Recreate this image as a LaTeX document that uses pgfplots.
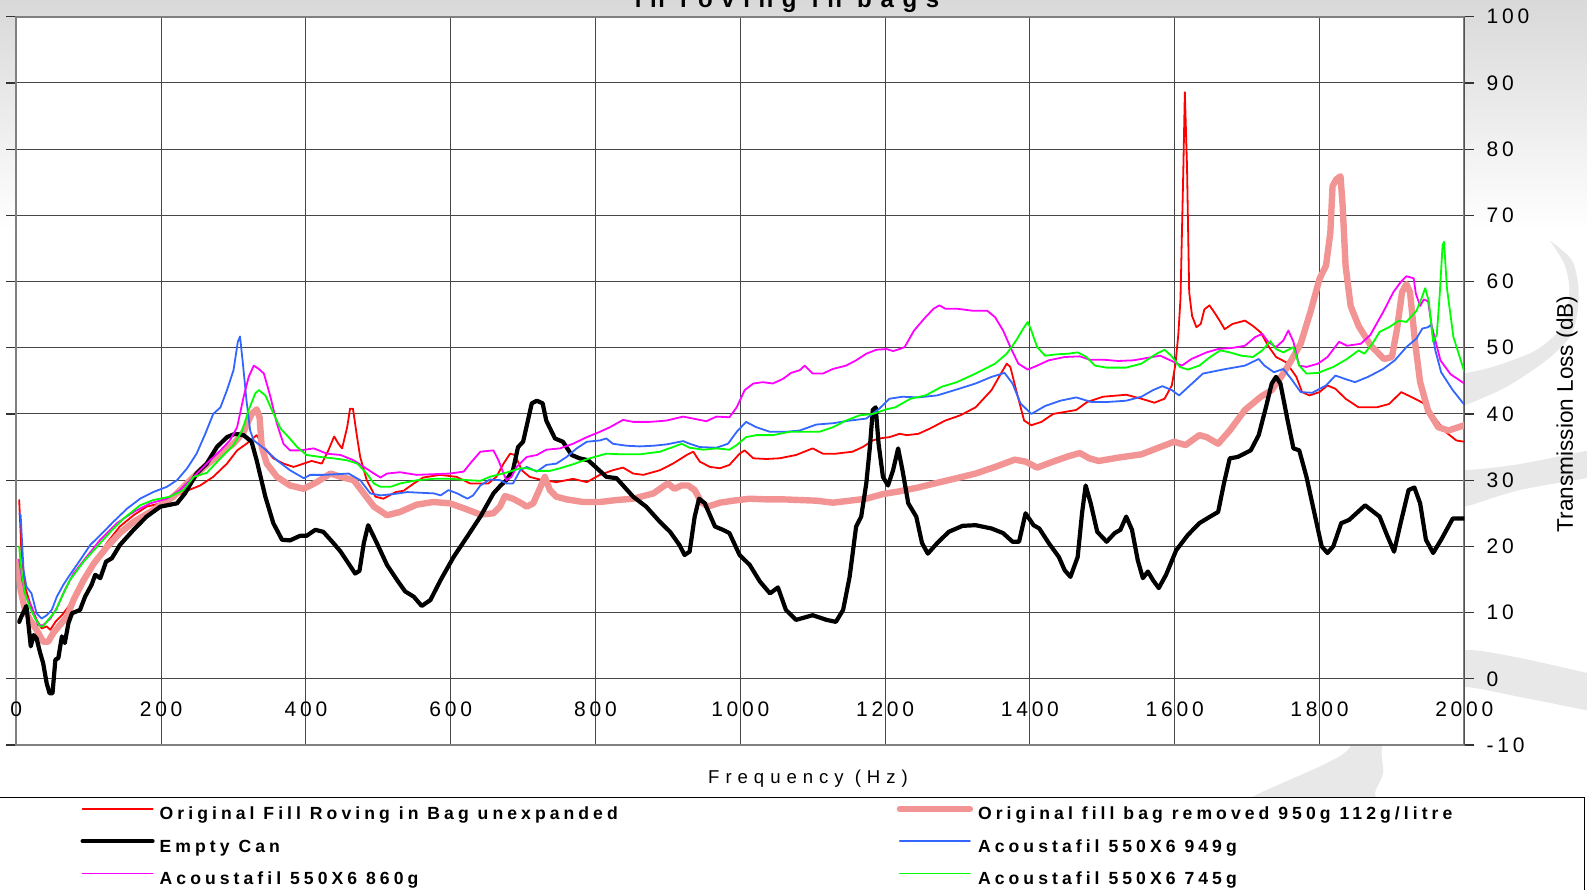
\documentclass[border=0pt]{standalone}
\usepackage{pgfplots}
\pgfplotsset{compat=1.18}
\usepackage{fontspec}
\setmainfont{Liberation Sans}
\newfontfamily\tickfont{Liberation Sans}[LetterSpace=18]
\newfontfamily\freqfont{Liberation Sans}[LetterSpace=32]
\newfontfamily\legfont{Liberation Sans}[LetterSpace=23]
\newfontfamily\titlefont{Liberation Sans}[LetterSpace=36]
\definecolor{cRed}{RGB}{255,0,0}
\definecolor{cSalmon}{RGB}{243,148,148}
\definecolor{cBlue}{RGB}{51,102,255}
\definecolor{cMag}{RGB}{255,0,255}
\definecolor{cGreen}{RGB}{0,255,0}
\definecolor{swoosh}{RGB}{232,232,232}
\begin{document}
\begin{tikzpicture}[x=1pt,y=1pt]
\path[use as bounding box] (0,0) rectangle (793.5,445);
\fill[white] (0,0) rectangle (793.5,445);
\shade[top color=black!15, bottom color=white] (0,330) rectangle (793.5,445);
% decorative swooshes
\fill[swoosh] plot[smooth] coordinates {(775,324.65) (782,313.35) (784.65,301.65) (783.35,288.35) (778.35,278.35) (766.65,269.15) (746.65,261.65) (732.5,258.35) (720,256)}
  -- plot[smooth] coordinates {(720,240) (732.5,242.5) (753.35,251.65) (773.35,265) (785,276.65) (788.65,288.35) (789.15,301.65) (785.85,315) (775,324.65)} -- cycle;
\fill[swoosh] plot[smooth] coordinates {(720,212) (732.5,210) (760,213) (800,221)}
  -- plot[smooth] coordinates {(800,207) (760,200) (732.5,191.65) (720,190)} -- cycle;
\fill[swoosh] plot[smooth] coordinates {(800,107) (760,116) (733,120) (710,115) (692.5,100) (676,72.5) (663.5,63.5) (630,48.5) (620,42.5)}
  -- plot[smooth] coordinates {(690,42.5) (687.5,48.5) (691.5,58.5) (691,71.5) (697.5,87.5) (715,99) (733,101.5) (760,96.5) (800,88.5)} -- cycle;
\begin{axis}[
  at={(8.15pt,72.5pt)}, anchor=south west, scale only axis,
  width=724pt, height=364.15pt,
  xmin=0, xmax=2000, ymin=-10, ymax=100,
  xtick={0,200,...,2000}, ytick={-10,0,...,100},
  xticklabels={0,200,400,600,800,1000,1200,1400,1600,1800,2000},
  yticklabels={-10,0,10,20,30,40,50,60,70,80,90,100},
  yticklabel pos=right,
  grid=major,
  major grid style={black!72, line width=0.5pt},
  axis line style={black!50, line width=1pt},
  axis background/.style={fill=white},
  tick align=outside,
  major tick length=5pt,
  xtick style={draw=none},
  ytick style={black!80, line width=0.6pt},
  xticklabel style={font=\tickfont\fontsize{10.5}{12}\selectfont, anchor=center, yshift=23pt},
  yticklabel style={font=\tickfont\fontsize{10.5}{12}\selectfont, anchor=west, inner sep=0pt, xshift=6pt},
  no markers,
  every axis plot/.append style={line join=round, line cap=round},
  legend columns=2,
  legend cell align=left,
  legend style={at={(-0.01264,-0.0714)}, anchor=north west, draw=black, line width=0.5pt, fill=white,
    inner xsep=41pt, inner ysep=4pt, row sep=6.7pt, column sep=0pt,
    font=\legfont\bfseries\fontsize{8.8}{10}\selectfont,
    nodes={inner sep=0pt, text height=7pt, text depth=2.5pt},
    /tikz/every odd column/.append style={column sep=2.5pt}},
  legend image code/.code={\draw[#1] (0pt,3.2pt) -- (35pt,3.2pt);},
]
% Original Fill Roving in Bag unexpanded
\addplot[cRed, line width=0.9pt] coordinates {
(4,27.0) (7,19.4) (12,13.9) (19,11.4) (28,8.9) (35,7.6) (42,7.9) (47,7.4) (54,8.6) (63,9.6) (72,10.9) (81,12.4) (93,14.9) (107,17.4) (125,20.5) (143,23.0) (162,24.7) (180,26.0) (199,26.5) (217,27.5) (236,28.4) (254,29.2) (272,30.5) (291,32.5) (305,34.5) (318,35.5) (332,36.8) (342,35.0) (355,33.3) (369,32.5) (383,32.0) (397,32.5) (408,32.9) (422,32.5) (431,34.5) (439,36.6) (445,35.5) (450,34.8) (457,38.0) (461,40.8) (465,40.8) (470,37.0) (475,33.5) (484,30.0) (496,27.5) (507,27.2) (524,28.2) (535,28.4) (549,29.5) (562,30.4) (585,30.8) (608,30.5) (627,29.5) (641,29.5) (652,29.5) (663,30.5) (673,32.5) (682,34.0) (689,33.8) (698,31.5) (709,30.5) (723,30.1) (746,29.7) (769,30.2) (788,29.7) (806,30.8) (824,31.5) (838,31.9) (852,31.0) (866,30.8) (889,31.5) (907,32.5) (926,33.8) (935,34.3) (944,32.8) (958,32.0) (972,31.8) (985,32.3) (999,34.0) (1006,34.5) (1018,33.3) (1036,33.2) (1054,33.3) (1077,33.8) (1093,34.5) (1100,34.8) (1114,34.0) (1132,34.0) (1155,34.3) (1169,35.0) (1183,36.0) (1192,36.3) (1206,36.5) (1220,37.0) (1230,36.8) (1246,37.0) (1262,37.8) (1283,39.0) (1304,39.8) (1325,41.0) (1347,43.6) (1360,46.1) (1368,47.6) (1373,47.1) (1381,43.6) (1392,39.0) (1402,38.3) (1416,38.8) (1432,40.0) (1448,40.3) (1464,40.6) (1479,41.8) (1501,42.6) (1533,42.9) (1554,42.3) (1572,41.7) (1586,42.3) (1596,44.3) (1601,47.5) (1605,52.0) (1608,57.4) (1612,77.4) (1614,88.6) (1617,77.4) (1620,58.4) (1624,54.8) (1630,53.1) (1636,53.6) (1641,55.8) (1648,56.4) (1655,55.3) (1662,54.1) (1669,52.8) (1680,53.6) (1697,54.1) (1708,53.3) (1719,52.3) (1729,50.3) (1740,48.6) (1754,47.8) (1768,45.6) (1776,43.3) (1786,42.8) (1800,43.3) (1811,44.3) (1822,43.8) (1836,42.3) (1854,41.0) (1879,41.0) (1896,41.5) (1913,43.3) (1928,42.5) (1946,41.5) (1960,39.3) (1974,37.3) (1989,36.0) (2000,35.8)
};
\addlegendentry{\makebox[368.5pt][l]{Original Fill Roving in Bag unexpanded}}
% Original fill bag removed
\addplot[cSalmon, line width=3.2pt] coordinates {
(2,17.7) (6,13.4) (12,10.4) (19,8.9) (28,7.4) (37,5.6) (44,5.6) (51,6.9) (60,8.1) (70,9.4) (79,11.9) (93,14.9) (107,17.4) (125,19.9) (143,22.0) (162,23.7) (185,25.2) (203,26.5) (217,27.5) (231,29.0) (245,30.5) (263,32.3) (282,34.0) (300,35.5) (314,37.3) (325,40.0) (332,40.7) (336,39.5) (339,35.0) (346,32.5) (360,30.5) (378,29.2) (397,28.7) (415,29.7) (434,31.0) (448,30.5) (466,30.0) (480,28.0) (494,26.0) (512,24.7) (530,25.2) (553,26.3) (576,26.7) (599,26.5) (622,25.6) (641,24.8) (659,25.0) (668,26.0) (675,27.6) (686,27.2) (698,26.5) (705,26.0) (714,26.5) (723,28.7) (730,30.5) (737,28.5) (746,27.5) (760,27.1) (783,26.7) (806,26.7) (829,27.0) (852,27.2) (880,28.0) (893,29.0) (900,29.5) (909,28.7) (919,29.2) (928,29.2) (937,28.5) (946,26.7) (955,26.0) (972,26.6) (990,26.9) (1013,27.2) (1036,27.1) (1059,27.1) (1082,27.0) (1105,26.9) (1128,26.6) (1151,26.9) (1174,27.2) (1197,27.9) (1219,28.3) (1246,28.9) (1272,29.6) (1299,30.3) (1325,31.0) (1352,32.0) (1379,33.1) (1394,32.8) (1410,31.9) (1432,32.8) (1453,33.6) (1469,34.1) (1482,33.3) (1495,32.9) (1522,33.4) (1554,33.9) (1580,35.0) (1599,35.8) (1615,35.3) (1634,36.8) (1644,36.5) (1660,35.5) (1676,37.5) (1697,40.6) (1719,42.6) (1734,43.6) (1750,46.1) (1761,48.1) (1774,50.6) (1788,55.6) (1800,60.4) (1809,62.4) (1815,67.4) (1818,74.4) (1823,75.4) (1829,75.9) (1832,71.4) (1836,62.4) (1843,56.3) (1854,53.3) (1871,50.3) (1889,48.3) (1900,48.6) (1907,52.8) (1914,58.4) (1920,59.6) (1925,58.4) (1932,50.8) (1939,44.8) (1950,40.5) (1964,38.0) (1978,37.5) (2000,38.3)
};
\addlegendentry{\makebox[262pt][l]{Original fill bag removed 950g 112g/litre}}
% Empty Can
\addplot[black, line width=2.1pt] coordinates {
(4,8.6) (7,9.4) (14,11.0) (20,4.9) (24,6.6) (28,6.1) (33,3.9) (37,2.4) (42,-0.7) (46,-2.2) (50,-2.2) (54,2.9) (58,3.1) (63,6.4) (67,5.4) (72,8.4) (77,9.9) (88,10.4) (95,12.4) (104,14.2) (109,15.7) (116,15.2) (124,17.7) (132,18.2) (143,20.2) (162,22.5) (180,24.5) (199,26.0) (222,26.5) (233,28.0) (249,31.0) (263,32.5) (277,35.0) (291,36.5) (302,37.0) (314,36.8) (325,35.8) (332,33.0) (344,27.5) (355,23.5) (367,21.0) (378,20.9) (392,21.6) (401,21.6) (413,22.5) (424,22.2) (438,20.5) (448,19.2) (459,17.4) (468,15.9) (474,16.3) (480,20.5) (486,23.2) (498,20.5) (512,17.2) (526,14.9) (537,13.2) (549,12.4) (560,11.0) (572,11.9) (586,14.9) (604,18.4) (623,21.5) (641,24.5) (659,28.0) (669,29.2) (677,30.0) (686,31.5) (693,35.0) (700,35.8) (712,41.6) (719,42.0) (727,41.6) (732,39.0) (744,36.3) (755,35.8) (767,33.8) (778,33.3) (790,33.0) (815,30.5) (829,30.3) (852,27.5) (870,26.0) (889,23.7) (903,22.2) (916,20.2) (923,18.7) (930,19.2) (937,24.5) (943,27.2) (951,26.5) (965,23.0) (976,22.5) (985,22.0) (999,18.7) (1013,17.2) (1027,14.7) (1041,12.9) (1052,13.8) (1063,10.4) (1077,8.9) (1100,9.6) (1119,8.9) (1132,8.6) (1142,10.4) (1151,15.4) (1160,23.0) (1167,24.5) (1174,29.5) (1179,35.0) (1183,40.6) (1187,41.0) (1191,35.5) (1197,30.5) (1204,29.2) (1211,31.5) (1218,34.8) (1224,31.5) (1232,26.5) (1243,24.5) (1251,20.5) (1259,18.9) (1272,20.5) (1288,22.2) (1307,23.1) (1325,23.2) (1347,22.7) (1363,22.0) (1376,20.7) (1385,20.7) (1394,25.0) (1405,23.2) (1413,22.7) (1426,20.5) (1440,18.4) (1448,16.4) (1456,15.4) (1466,18.4) (1472,25.0) (1477,29.2) (1484,26.5) (1493,22.2) (1506,20.7) (1517,22.0) (1525,22.5) (1533,24.5) (1541,22.5) (1549,17.9) (1556,15.2) (1563,16.2) (1570,14.9) (1578,13.7) (1588,15.7) (1602,19.4) (1618,21.7) (1634,23.5) (1649,24.5) (1660,25.2) (1668,29.5) (1676,33.3) (1687,33.5) (1705,34.5) (1716,36.8) (1726,41.0) (1734,44.6) (1740,45.6) (1746,44.6) (1756,39.0) (1764,34.8) (1772,34.5) (1782,30.5) (1796,23.5) (1803,20.0) (1811,19.0) (1819,20.0) (1830,23.5) (1841,24.0) (1851,25.0) (1863,26.2) (1883,24.5) (1894,21.5) (1903,19.2) (1912,23.5) (1923,28.5) (1931,28.9) (1939,26.5) (1947,21.0) (1957,19.0) (1968,21.0) (1984,24.2) (2000,24.2)
};
\addlegendentry{\makebox[368.5pt][l]{Empty Can}}
% Acoustafil 949g
\addplot[cBlue, line width=0.9pt] coordinates {
(4,25.0) (6,24.7) (10,16.4) (14,13.9) (21,12.9) (28,9.9) (35,9.1) (42,9.6) (49,10.4) (56,12.4) (65,14.2) (74,15.7) (88,17.9) (102,20.2) (116,21.7) (134,23.7) (153,25.7) (171,27.2) (189,28.2) (208,29.0) (222,30.0) (236,31.8) (249,34.0) (261,37.0) (272,40.0) (282,41.0) (291,43.6) (300,46.6) (306,50.9) (309,51.7) (313,47.6) (318,42.0) (323,37.5) (328,36.0) (342,34.8) (360,33.0) (378,31.5) (397,30.3) (406,30.8) (424,30.8) (443,30.9) (459,31.0) (475,30.0) (489,28.0) (503,27.7) (521,27.9) (540,28.2) (558,28.1) (577,28.0) (586,27.7) (597,28.5) (609,28.0) (623,27.2) (631,27.7) (641,29.2) (654,30.1) (668,30.0) (677,29.5) (686,29.5) (696,31.5) (705,32.0) (719,31.3) (732,32.3) (746,32.5) (760,33.5) (774,34.8) (788,35.8) (806,36.0) (815,36.3) (824,35.5) (843,35.2) (861,35.1) (880,35.2) (898,35.4) (921,35.9) (930,35.5) (944,35.0) (967,34.9) (983,35.5) (995,37.3) (1008,38.8) (1022,38.0) (1041,37.3) (1063,37.3) (1082,37.5) (1105,38.4) (1128,38.6) (1151,39.0) (1174,39.3) (1192,40.8) (1206,42.3) (1224,42.6) (1246,42.5) (1272,42.8) (1299,43.7) (1325,44.6) (1347,45.6) (1365,46.2) (1376,44.6) (1387,41.6) (1402,40.0) (1421,41.2) (1442,42.0) (1464,42.5) (1485,41.8) (1506,41.8) (1533,42.0) (1554,42.6) (1570,43.6) (1583,44.2) (1596,43.6) (1606,42.8) (1618,44.0) (1639,46.1) (1671,46.8) (1697,47.3) (1716,48.3) (1724,47.3) (1737,46.3) (1750,46.8) (1761,45.3) (1774,43.3) (1790,43.2) (1809,44.3) (1822,45.8) (1835,45.3) (1849,44.8) (1867,45.6) (1888,46.8) (1904,48.1) (1920,50.1) (1934,51.4) (1942,52.9) (1950,53.1) (1954,53.5) (1960,49.6) (1968,46.3) (1984,43.6) (2000,41.4)
};
\addlegendentry{\makebox[262pt][l]{Acoustafil 550X6 949g}}
% Acoustafil 860g
\addplot[cMag, line width=0.9pt] coordinates {
(4,18.0) (8,15.0) (12,12.9) (21,10.9) (30,8.1) (37,8.1) (47,9.1) (56,10.7) (67,13.4) (79,15.9) (97,18.4) (116,21.0) (139,23.5) (162,25.2) (185,26.5) (208,27.2) (226,28.5) (245,30.5) (263,32.5) (282,34.5) (295,36.0) (305,38.0) (314,42.6) (321,45.6) (328,47.3) (335,46.8) (342,46.1) (351,42.6) (360,38.5) (369,35.5) (378,34.5) (392,34.5) (411,34.8) (429,34.0) (448,33.8) (466,33.0) (480,32.0) (494,31.0) (503,30.4) (512,31.0) (530,31.2) (553,30.8) (576,30.9) (599,31.0) (618,31.3) (629,32.8) (641,34.3) (659,34.5) (666,33.0) (673,31.0) (677,30.0) (684,30.5) (691,32.0) (705,33.5) (719,33.8) (732,34.6) (751,34.8) (769,35.5) (788,36.5) (806,37.3) (820,38.0) (838,39.1) (852,38.8) (875,38.8) (898,39.0) (921,39.6) (935,39.3) (953,38.9) (967,39.6) (985,39.5) (995,41.0) (1006,43.6) (1018,44.6) (1031,44.8) (1045,44.6) (1059,45.3) (1070,46.2) (1082,46.6) (1089,47.3) (1100,46.1) (1114,46.1) (1128,46.8) (1146,47.3) (1160,48.1) (1174,49.1) (1188,49.7) (1202,49.8) (1211,49.5) (1220,49.8) (1227,50.1) (1240,52.6) (1254,54.4) (1267,55.9) (1275,56.4) (1283,55.9) (1299,55.9) (1320,55.6) (1341,55.6) (1352,54.6) (1363,52.6) (1373,50.1) (1384,47.6) (1397,46.7) (1410,47.3) (1426,48.1) (1448,48.6) (1469,48.7) (1482,48.2) (1501,48.2) (1522,48.0) (1543,48.1) (1564,48.5) (1580,48.8) (1594,48.1) (1610,47.3) (1623,48.3) (1644,49.3) (1660,49.8) (1681,50.0) (1697,50.3) (1711,51.6) (1721,52.1) (1729,50.9) (1740,50.1) (1750,51.1) (1757,52.6) (1764,50.9) (1772,47.3) (1782,47.1) (1798,47.6) (1811,48.6) (1827,50.9) (1838,50.3) (1857,50.6) (1870,51.9) (1888,55.4) (1902,58.4) (1912,59.9) (1920,60.8) (1930,60.5) (1933,58.2) (1939,56.3) (1944,57.3) (1950,57.0) (1955,53.3) (1967,48.1) (1981,46.0) (2000,44.6)
};
\addlegendentry{\makebox[368.5pt][l]{Acoustafil 550X6 860g}}
% Acoustafil 745g
\addplot[cGreen, line width=0.9pt] coordinates {
(4,20.0) (7,16.4) (12,12.9) (19,10.7) (26,9.1) (33,7.9) (37,7.9) (44,8.9) (54,10.2) (63,12.4) (74,14.9) (93,17.7) (111,19.9) (130,22.2) (148,24.2) (171,26.2) (189,27.0) (212,27.5) (231,28.5) (245,30.5) (263,31.1) (282,33.3) (300,35.3) (312,37.5) (321,40.6) (330,43.1) (335,43.6) (344,42.8) (353,40.6) (365,37.8) (376,36.5) (388,35.0) (401,33.8) (420,33.5) (438,33.3) (457,33.0) (471,32.5) (484,31.0) (494,29.5) (503,29.0) (517,29.0) (530,29.5) (554,30.0) (577,30.2) (600,30.2) (623,30.0) (641,29.9) (654,30.5) (668,30.9) (682,31.3) (696,31.8) (705,31.8) (719,31.4) (737,31.4) (751,31.8) (769,32.4) (792,33.3) (815,34.0) (838,33.9) (861,33.9) (889,34.3) (907,35.0) (919,35.5) (930,34.9) (949,34.6) (967,34.8) (985,34.6) (995,35.3) (1008,36.5) (1022,36.8) (1045,36.8) (1068,37.3) (1091,37.3) (1109,37.3) (1128,38.0) (1146,39.0) (1165,39.8) (1183,40.0) (1202,40.7) (1214,41.0) (1227,41.8) (1235,42.3) (1256,42.8) (1278,44.1) (1299,44.8) (1325,46.1) (1352,47.6) (1368,49.1) (1381,51.1) (1392,53.1) (1397,53.9) (1402,52.6) (1410,50.1) (1421,48.8) (1437,49.0) (1453,49.1) (1466,49.3) (1477,48.7) (1490,47.3) (1506,47.0) (1533,47.0) (1554,47.6) (1575,49.1) (1586,49.7) (1596,48.7) (1607,47.1) (1618,46.7) (1634,47.3) (1649,48.6) (1663,49.6) (1676,49.3) (1692,48.8) (1708,48.6) (1721,49.6) (1732,51.0) (1740,49.8) (1750,49.3) (1764,50.1) (1772,47.3) (1782,46.1) (1798,46.2) (1819,47.1) (1838,48.3) (1854,49.6) (1862,49.1) (1873,50.6) (1883,52.4) (1896,53.1) (1910,54.1) (1920,53.9) (1934,55.6) (1941,57.5) (1946,59.0) (1951,57.0) (1957,50.9) (1962,52.0) (1966,58.0) (1970,65.5) (1972,66.0) (1976,59.0) (1985,51.6) (2000,46.4)
};
\addlegendentry{\makebox[262pt][l]{Acoustafil 550X6 745g}}
\draw[black, line width=0.7pt] (rel axis cs:1,0) -- (rel axis cs:1,1);
\end{axis}
\node[anchor=base, font=\titlefont\bfseries\fontsize{12}{14}\selectfont] at (393.5,441.4) {in roving in bags};
\node[rotate=90, font=\fontsize{11.3}{13}\selectfont] at (783.5,238) {Transmission Loss (dB)};
\node[anchor=base, font=\freqfont\fontsize{9.3}{11}\selectfont] at (404,53) {Frequency (Hz)};
\end{tikzpicture}
\end{document}
